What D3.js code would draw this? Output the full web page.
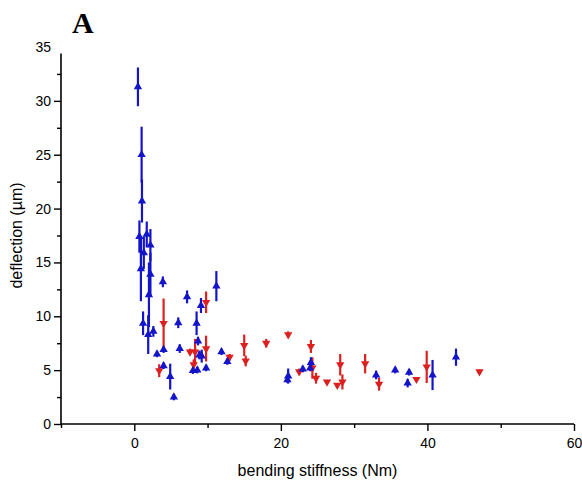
<!DOCTYPE html>
<html>
<head>
<meta charset="utf-8">
<script src="https://cdn.jsdelivr.net/npm/d3@7"></script>
<style>
  body { margin: 0; background: #fff; }
  text { font-family: "Liberation Sans", Arial, sans-serif; }
</style>
</head>
<body>
<div id="chart"></div>
<script>
// Blue series (up triangles): stiffness, deflection, error
const blueX = [0.5, 1.0, 1.05, 0.7, 1.7, 2.2, 1.3, 0.9, 2.2, 3.9, 7.2, 11.2, 9.1, 2.0, 1.2, 6.0, 8.5, 2.6, 1.9, 8.7,
               6.2, 4.0, 3.1, 8.9, 9.2, 11.9, 12.7, 4.0, 8.0, 8.6, 9.8, 4.9, 5.4, 21.0, 20.9, 23.0, 24.1, 24.0, 33.0, 35.6,
               37.5, 37.3, 40.7, 43.9];
const blueY = [31.3, 25.0, 20.7, 17.4, 17.6, 16.6, 15.9, 14.4, 13.9, 13.2, 11.8, 12.8, 11.0, 12.0, 9.35, 9.4, 9.35, 8.6, 8.3, 7.7,
               7.0, 6.9, 6.5, 6.4, 6.3, 6.7, 5.8, 5.4, 4.95, 5.0, 5.2, 4.4, 2.5, 4.45, 4.1, 5.1, 5.7, 5.2, 4.55, 5.0,
               4.8, 3.8, 4.55, 6.2];
const blueErr = [1.8, 2.6, 2.0, 1.5, 1.2, 1.5, 1.5, 3.0, 2.0, 0.5, 0.6, 1.4, 0.7, 3.0, 1.1, 0.5, 1.1, 0.5, 1.8, 0.4,
                 0.4, 0.3, 0.3, 0.4, 0.6, 0.3, 0.3, 0.3, 0.3, 0.3, 0.3, 1.2, 0.3, 0.7, 0.3, 0.3, 0.5, 0.3, 0.4, 0.3,
                 0.3, 0.4, 1.4, 0.8];

// Red series (down triangles)
const redX = [4.0, 9.8, 9.8, 7.6, 8.3, 13.0, 15.0, 15.2, 18.0, 3.4, 8.1, 21.0, 24.1, 22.5, 24.3, 24.8, 26.3, 27.7, 28.1, 28.4,
              31.5, 33.4, 38.5, 39.9, 47.1];
const redY = [9.35, 11.3, 7.0, 6.7, 6.7, 6.2, 7.3, 5.85, 7.5, 4.95, 5.5, 8.3, 7.2, 4.85, 5.2, 4.25, 3.9, 3.6, 5.5, 3.9,
              5.6, 3.7, 4.15, 5.3, 4.85];
const redErr = [2.3, 1.0, 1.2, 0.3, 1.2, 0.3, 1.0, 0.5, 0.4, 0.6, 0.5, 0.3, 0.6, 0.3, 1.0, 0.5, 0.2, 0.2, 1.0, 0.7,
                0.9, 0.6, 0.2, 1.5, 0.2];

const xTicks = [0, 20, 40, 60];
const xMinor = [-10, 10, 30, 50];
const yTicks = [0, 5, 10, 15, 20, 25, 30, 35];
const yMinor = [2.5, 7.5, 12.5, 17.5, 22.5, 27.5, 32.5];
const yAxisTop = 34.4;

const width = 582, height = 485;

const svg = d3.select("#chart")
  .append("svg")
    .attr("width", width)
    .attr("height", height);

const x = d3.scaleLinear().domain([-10, 60]).range([61, 574]);
const y = d3.scaleLinear().domain([0, 35]).range([424, 47]);

// X axis
const xAxis = svg.append("g")
  .attr("transform", `translate(0,${y(0)})`)
  .call(d3.axisBottom(x).tickValues(xTicks).tickSize(7).tickPadding(7).tickSizeOuter(0));
xAxis.select(".domain").remove();
xAxis.selectAll("text").style("font-size", "14px");

svg.append("g")
  .attr("transform", `translate(0,${y(0)})`)
  .call(d3.axisBottom(x).tickValues(xMinor).tickSize(4).tickFormat(""))
  .select(".domain").remove();

svg.append("line")
  .attr("x1", x(-10)).attr("x2", x(60))
  .attr("y1", y(0)).attr("y2", y(0))
  .attr("stroke", "#000").attr("stroke-width", 1.6);

// Y axis
const yAxis = svg.append("g")
  .attr("transform", `translate(${x(-10)},0)`)
  .call(d3.axisLeft(y).tickValues(yTicks).tickSize(7).tickPadding(3).tickSizeOuter(0));
yAxis.select(".domain").remove();
yAxis.selectAll("text").style("font-size", "14px");
yAxis.selectAll(".tick").filter(d => d > yAxisTop).select("line").remove();

svg.append("g")
  .attr("transform", `translate(${x(-10)},0)`)
  .call(d3.axisLeft(y).tickValues(yMinor).tickSize(4).tickFormat(""))
  .select(".domain").remove();

svg.append("line")
  .attr("x1", x(-10)).attr("x2", x(-10))
  .attr("y1", y(0)).attr("y2", y(yAxisTop))
  .attr("stroke", "#000").attr("stroke-width", 1.6);

svg.selectAll(".tick line").attr("stroke-width", 1.4);

// Axis titles
svg.append("text")
  .attr("x", (x(-10) + x(60)) / 2)
  .attr("y", 476)
  .attr("text-anchor", "middle")
  .style("font-size", "16px")
  .text("bending stiffness (Nm)");

svg.append("text")
  .attr("transform", `translate(22,${y(17.5)}) rotate(-90)`)
  .attr("text-anchor", "middle")
  .style("font-size", "16px")
  .text("deflection (µm)");

// Panel letter
svg.append("text")
  .attr("x", 72)
  .attr("y", 33)
  .style("font-family", "'Liberation Serif', 'Times New Roman', serif")
  .style("font-weight", "bold")
  .style("font-size", "30px")
  .text("A");

// Build point lists
const blue = blueX.map((v, i) => ({x: v, y: blueY[i], e: blueErr[i]}));
const red = redX.map((v, i) => ({x: v, y: redY[i], e: redErr[i]}));

const blueColor = "#1414c8";
const redColor = "#dc2020";

function drawSeries(data, color, down) {
  const g = svg.append("g");
  g.selectAll("line.err")
    .data(data)
    .enter().append("line")
      .attr("class", "err")
      .attr("x1", d => x(d.x)).attr("x2", d => x(d.x))
      .attr("y1", d => y(d.y - d.e)).attr("y2", d => y(d.y + d.e))
      .attr("stroke", color)
      .attr("stroke-width", 2.2);

  g.selectAll("path.pt")
    .data(data)
    .enter().append("path")
      .attr("class", "pt")
      .attr("d", d3.symbol().type(d3.symbolTriangle).size(30))
      .attr("transform", d => `translate(${x(d.x)},${y(d.y)})${down ? " rotate(180)" : ""}`)
      .attr("fill", color);
}

drawSeries(red, redColor, true);
drawSeries(blue, blueColor, false);
</script>
</body>
</html>
